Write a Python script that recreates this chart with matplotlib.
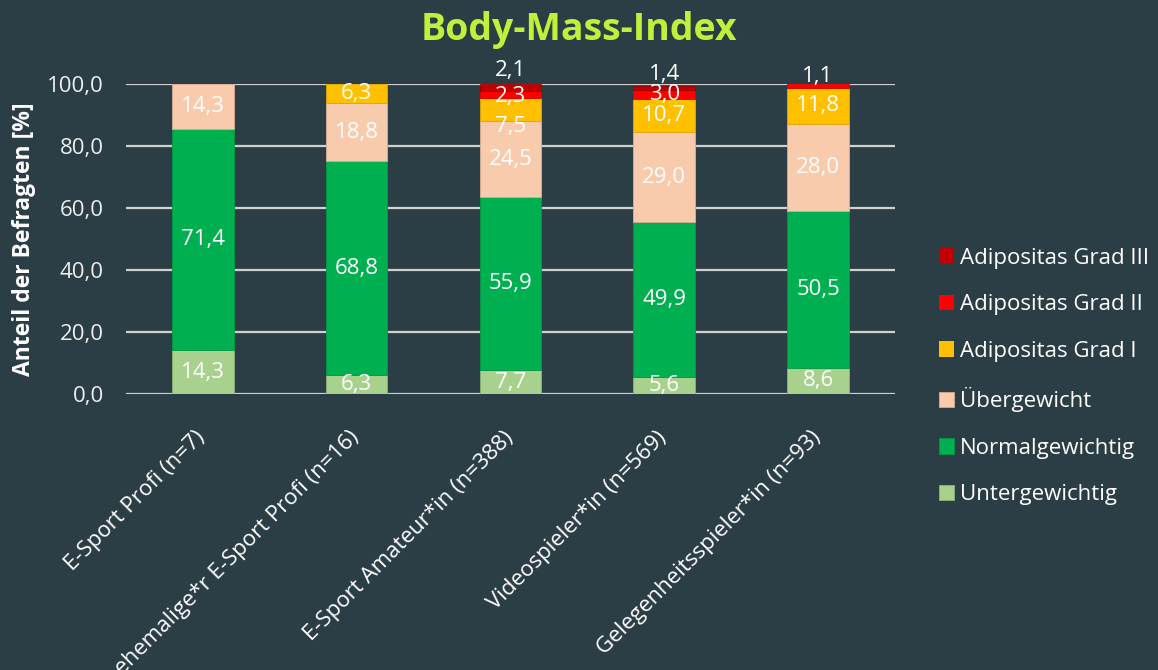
import matplotlib
matplotlib.use("Agg")
import matplotlib.pyplot as plt
import matplotlib.transforms as mtrans
import numpy as np

plt.rcParams['font.family'] = ['Open Sans', 'DejaVu Sans']

categories = ["E-Sport Profi (n=7)", "ehemalige*r E-Sport Profi (n=16)",
              "E-Sport Amateur*in (n=388)", "Videospieler*in (n=569)",
              "Gelegenheitsspieler*in (n=93)"]
series_names = ["Untergewichtig", "Normalgewichtig", "Übergewicht",
                "Adipositas Grad I", "Adipositas Grad II", "Adipositas Grad III"]
untergewichtig = [14.3, 6.3, 7.7, 5.6, 8.6]
normalgewichtig = [71.4, 68.8, 55.9, 49.9, 50.5]
uebergewicht = [14.3, 18.8, 24.5, 29.0, 28.0]
grad1 = [0.0, 6.3, 7.5, 10.7, 11.8]
grad2 = [0.0, 0.0, 2.3, 3.0, 1.1]
grad3 = [0.0, 0.0, 2.1, 1.4, 0.0]
yticks = [0, 20, 40, 60, 80, 100]

colors = ["#A9D18E", "#00B050", "#F8CBAD", "#FFC000", "#FF0000", "#C00000"]
edge_colors = ["#8fb277", "#009a45", "#d9ad92", "#e0a800", "#d90000", "#a00000"]
bg = "#2B3D45"

# label nudges (series index, category index) -> absolute y for label
label_y_override = {(3, 2): 86.3, (4, 2): 96.1, (5, 2): 104.6,
                    (5, 3): 103.3, (4, 4): 102.4}

fig = plt.figure(figsize=(11.58, 6.70), dpi=100, facecolor=bg)
ax = fig.add_axes([0.1088, 0.4115, 0.664, 0.4627])
ax.set_facecolor(bg)

data = [untergewichtig, normalgewichtig, uebergewicht, grad1, grad2, grad3]
x = np.arange(len(categories))
bottom = np.zeros(len(categories))
handles = []
for i, (name, vals) in enumerate(zip(series_names, data)):
    vals = np.array(vals)
    lws = [0.6 if v > 0 else 0 for v in vals]
    b = ax.bar(x, vals, 0.4, bottom=bottom, color=colors[i], edgecolor=edge_colors[i],
               linewidth=lws, label=name, zorder=3)
    handles.append(b)
    for j, v in enumerate(vals):
        if v <= 0:
            continue
        yc = label_y_override.get((i, j), bottom[j] + v / 2)
        ax.text(x[j], yc, f"{v:.1f}".replace(".", ","), ha="center", va="center",
                color="white", fontsize=16, zorder=5, clip_on=False)
    bottom += vals

ax.set_xlim(-0.5, len(categories) - 0.5)
ax.set_ylim(0, 100)
ax.set_yticks(yticks)
ax.set_yticklabels([f"{t:.1f}".replace(".", ",") for t in yticks], color="#EEEEEE", fontsize=16)
ax.yaxis.grid(True, color="#D0D0D0", linewidth=1.6, zorder=1)
ax.set_axisbelow(True)
ax.tick_params(axis="both", length=0)
ax.tick_params(axis="y", pad=16)
for s in ax.spines.values():
    s.set_visible(False)
ax.set_xticks(x)
ax.set_xticklabels(categories, rotation=45, ha="right", rotation_mode="anchor",
                   color="white", fontsize=16)
ax.tick_params(axis="x", pad=12)
offset = mtrans.ScaledTranslation(-0.08, -0.16, fig.dpi_scale_trans)
for lbl in ax.get_xticklabels():
    lbl.set_transform(lbl.get_transform() + offset)
ax.set_ylabel("Anteil der Befragten [%]", color="white", fontsize=16.5, fontweight="bold",
              labelpad=8)

fig.suptitle("Body-Mass-Index", color="#C0F03A", fontsize=27, fontweight="bold",
             x=0.5, y=0.983)

leg = fig.legend(handles[::-1], series_names[::-1], loc="center left",
                 bbox_to_anchor=(0.8105, 0.438), frameon=False, fontsize=16,
                 labelcolor="white", handlelength=0.68, handleheight=0.68,
                 handletextpad=0.3, labelspacing=1.15, borderpad=0, borderaxespad=0)

fig.savefig("out.png", dpi=100, facecolor=bg)
